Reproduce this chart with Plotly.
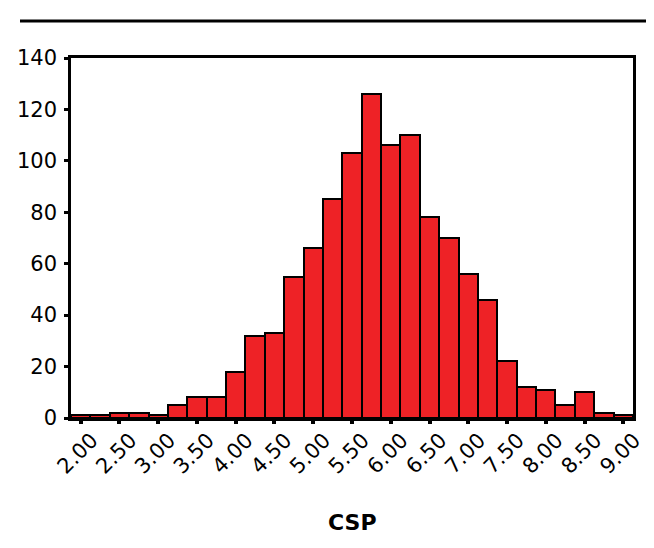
import plotly.graph_objects as go

bin_centers = [2.00, 2.25, 2.50, 2.75, 3.00, 3.25, 3.50, 3.75, 4.00, 4.25, 4.50, 4.75,
               5.00, 5.25, 5.50, 5.75, 6.00, 6.25, 6.50, 6.75, 7.00, 7.25, 7.50, 7.75,
               8.00, 8.25, 8.50, 8.75, 9.00]
counts = [1, 1, 2, 2, 1, 5, 8, 8, 18, 32, 33, 55,
          66, 85, 103, 126, 106, 110, 78, 70, 56, 46, 22, 12,
          11, 5, 10, 2, 1]
x_tick_vals = [2.0, 2.5, 3.0, 3.5, 4.0, 4.5, 5.0, 5.5, 6.0, 6.5, 7.0, 7.5, 8.0, 8.5, 9.0]
x_tick_text = ["2.00", "2.50", "3.00", "3.50", "4.00", "4.50", "5.00", "5.50",
               "6.00", "6.50", "7.00", "7.50", "8.00", "8.50", "9.00"]
y_tick_vals = [0, 20, 40, 60, 80, 100, 120, 140]
x_title = "CSP"
bin_width = 0.25

FONT = "DejaVu Sans, Liberation Sans, Arial, sans-serif"

fig = go.Figure()
fig.add_trace(go.Bar(
    x=bin_centers,
    y=counts,
    width=bin_width,
    marker=dict(color="rgb(238,34,38)", line=dict(color="black", width=2)),
    hoverinfo="x+y",
))

fig.update_layout(
    width=654,
    height=548,
    margin=dict(l=63, r=29, t=50, b=138),
    paper_bgcolor="white",
    plot_bgcolor="white",
    showlegend=False,
    bargap=0,
    font=dict(family=FONT, size=21, color="black"),
    xaxis=dict(
        range=[bin_centers[0] - bin_width / 2, bin_centers[-1] + bin_width / 2],
        tickmode="array",
        tickvals=x_tick_vals,
        ticktext=x_tick_text,
        tickangle=-45,
        ticks="outside",
        ticklen=3,
        tickwidth=4,
        tickcolor="black",
        showline=True,
        linecolor="black",
        linewidth=2.5,
        mirror=True,
        showgrid=False,
        zeroline=False,
        automargin=False,
        tickfont=dict(family=FONT, size=21, color="black"),
        ticklabelshift=11,
        ticklabelstandoff=-4,
    ),
    yaxis=dict(
        range=[0, 140],
        tickmode="array",
        tickvals=y_tick_vals,
        ticks="outside",
        ticklen=4,
        tickwidth=3,
        tickcolor="black",
        showline=True,
        linecolor="black",
        linewidth=2.5,
        mirror=True,
        showgrid=False,
        zeroline=False,
        automargin=False,
        ticklabelstandoff=3,
        tickfont=dict(family=FONT, size=21, color="black"),
    ),
    shapes=[dict(
        type="line", xref="paper", yref="paper",
        x0=(12 - 63) / 562, x1=(654 - 63) / 562,
        y0=(410 - 13) / 360, y1=(410 - 13) / 360,
        line=dict(color="black", width=3),
    )],
    annotations=[dict(
        text="<b>" + x_title + "</b>",
        xref="paper", yref="paper",
        x=0.5, y=(410 - 514) / 360,
        xanchor="center", yanchor="middle",
        showarrow=False,
        font=dict(family=FONT, size=22, color="black"),
    )],
)

fig.write_html("out.html")
